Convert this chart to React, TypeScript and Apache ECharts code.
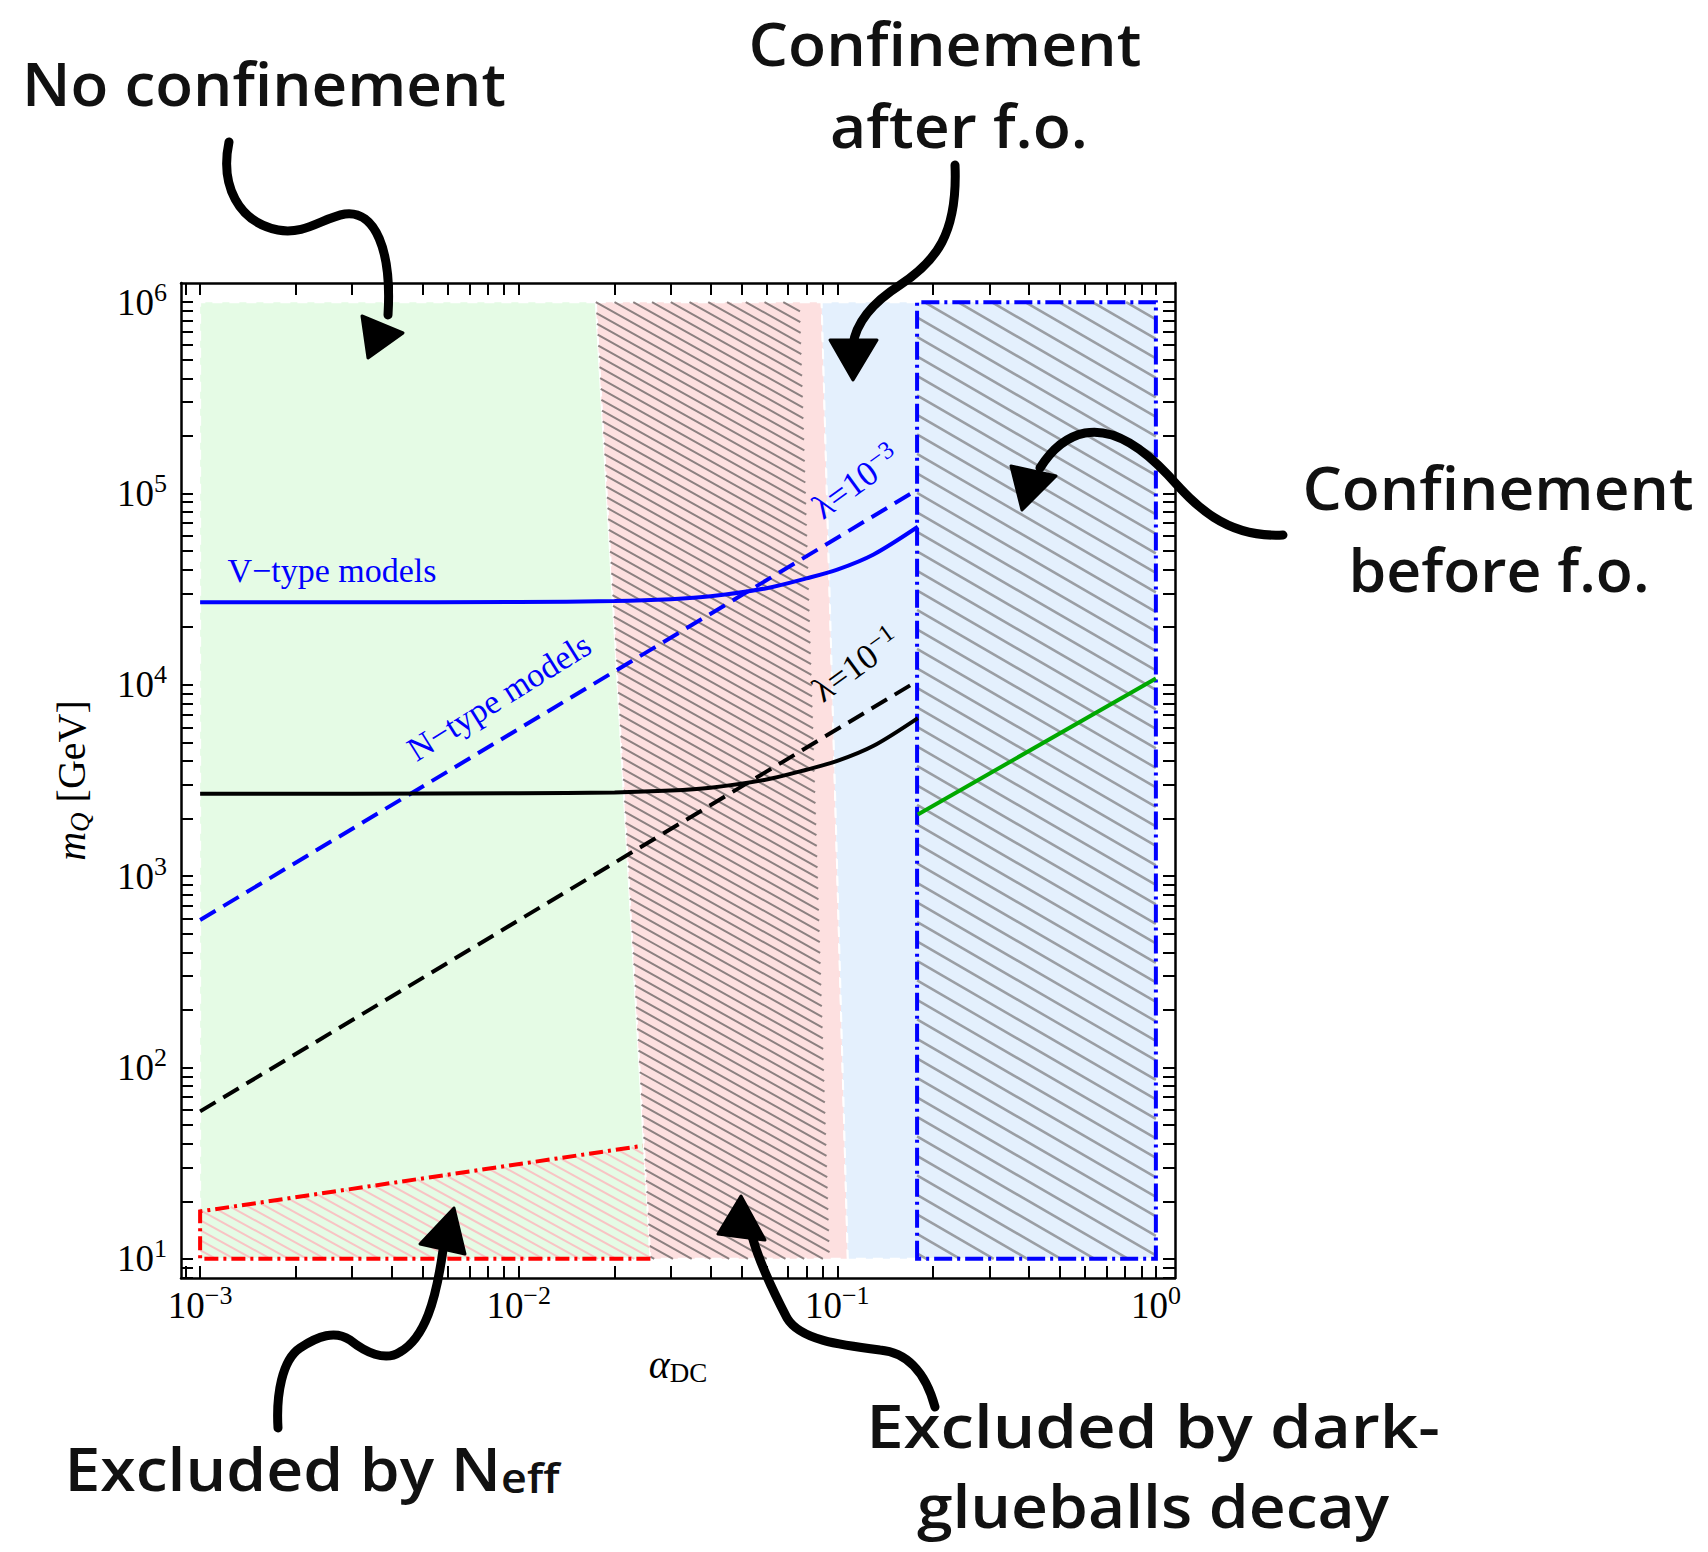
import React, { useEffect, useRef } from "react";
import * as echarts from "echarts";

const W = 1708;
const H = 1552;

// ---------- axis ranges (in decades) ----------
const X_RANGE = [-3.06, 0.06];
const Y_RANGE = [0.9, 6.1];

// ---------- tick labels ----------
const xTickExponents = [-3, -2, -1, 0];
const xTickLabels = ["−3", "−2", "−1", "0"];
const yTickExponents = [1, 2, 3, 4, 5, 6];
const yTickLabels = ["1", "2", "3", "4", "5", "6"];

// ---------- curves: alpha_DC and m_Q [GeV] ----------
const vTypeAlpha = [0.001, 0.003, 0.01, 0.02, 0.03, 0.04, 0.06, 0.08, 0.1, 0.13, 0.179];
const vTypeMassL3 = [2.7e4, 2.7e4, 2.71e4, 2.74e4, 2.8e4, 2.9e4, 3.2e4, 3.6e4, 4.0e4, 4.8e4, 6.7e4];
const vTypeMassL1 = [2.7e3, 2.7e3, 2.71e3, 2.74e3, 2.8e3, 2.9e3, 3.2e3, 3.6e3, 4.0e3, 4.8e3, 6.7e3];
const nTypeAlpha = [0.001, 0.179];
const nTypeMassL3 = [590, 1.05e5];
const nTypeMassL1 = [59, 1.05e4];
const greenAlpha = [0.179, 1.0];
const greenMass = [2.1e3, 1.08e4];

// ---------- regions (alpha_DC, m_Q) ----------
const noConfRegion = [[0.001, 10], [0.001, 1e6], [0.01746, 1e6], [0.0259, 10]];
const glueballRegion = [[0.01746, 1e6], [0.0893, 1e6], [0.1079, 10], [0.0259, 10]];
const glueballHatch = [[0.01746, 1e6], [0.0762, 1e6], [0.0947, 10], [0.0259, 10]];
const afterFoRegion = [[0.0893, 1e6], [1, 1e6], [1, 10], [0.1079, 10]];
const beforeFoRegion = [[0.178, 10], [0.178, 1e6], [1, 1e6], [1, 10]];
const neffRegion = [[0.001, 10], [0.001, 17.7], [0.0245, 39], [0.0259, 10]];
const neffBorder = [[0.0259, 10], [0.001, 10], [0.001, 17.7], [0.0245, 39]];

const SERIF = '"Liberation Serif", "Times New Roman", serif';
const HAND = '"Open Sans", sans-serif';

function logTicks(lo: number, hi: number) {
  const out: number[] = [];
  for (let n = Math.floor(lo) - 1; n <= Math.ceil(hi); n++) {
    for (let k = 1; k <= 9; k++) {
      const v = n + Math.log10(k);
      if (v >= lo - 1e-9 && v <= hi + 1e-9) out.push(v);
    }
  }
  return out;
}

const toLog = (p: number[]) => [Math.log10(p[0]), Math.log10(p[1])];

function hatchSegments(pts: number[][], slope: number, step: number) {
  const bs = pts.map((p) => p[1] - slope * p[0]);
  const bmin = Math.min(...bs);
  const bmax = Math.max(...bs);
  const segs: number[][] = [];
  for (let b = Math.ceil(bmin / step) * step; b <= bmax; b += step) {
    const xs: number[] = [];
    for (let i = 0; i < pts.length; i++) {
      const p1 = pts[i];
      const p2 = pts[(i + 1) % pts.length];
      const f1 = p1[1] - slope * p1[0] - b;
      const f2 = p2[1] - slope * p2[0] - b;
      if ((f1 <= 0 && f2 >= 0) || (f1 >= 0 && f2 <= 0)) {
        if (f1 === f2) continue;
        const t = f1 / (f1 - f2);
        xs.push(p1[0] + t * (p2[0] - p1[0]));
      }
    }
    if (xs.length >= 2) {
      const x1 = Math.min(...xs);
      const x2 = Math.max(...xs);
      if (x2 - x1 > 0.5) segs.push([x1, slope * x1 + b, x2, slope * x2 + b]);
    }
  }
  return segs;
}

type RegionOpts = {
  fill?: string;
  edge?: boolean;
  hatchPoly?: number[][];
  hatch?: { slope: number; step: number; color: string; width: number };
  border?: { points: number[][]; color: string; width: number; dash: number[]; closed: boolean };
  z: number;
};

function regionSeries(name: string, poly: number[][], o: RegionOpts) {
  return {
    type: "custom",
    name,
    coordinateSystem: "cartesian2d",
    xAxisIndex: 0,
    yAxisIndex: 0,
    silent: true,
    clip: false,
    z: o.z,
    data: [[0, 0]],
    renderItem: (_params: any, api: any) => {
      const pts = poly.map((p) => api.coord(toLog(p)));
      const children: any[] = [];
      if (o.fill) {
        children.push({
          type: "polygon",
          shape: { points: pts },
          style: o.edge
            ? { fill: o.fill, stroke: "#ffffff", lineWidth: 2, lineDash: [10, 7] }
            : { fill: o.fill },
        });
      }
      if (o.hatch) {
        const hp = (o.hatchPoly || poly).map((p) => api.coord(toLog(p)));
        const segs = hatchSegments(hp, o.hatch.slope, o.hatch.step);
        segs.forEach((s) =>
          children.push({
            type: "line",
            shape: { x1: s[0], y1: s[1], x2: s[2], y2: s[3] },
            style: { stroke: o.hatch!.color, lineWidth: o.hatch!.width },
          })
        );
      }
      if (o.border) {
        const bp = o.border.points.map((p) => api.coord(toLog(p)));
        children.push({
          type: o.border.closed ? "polygon" : "polyline",
          shape: { points: bp },
          style: {
            fill: "none",
            stroke: o.border.color,
            lineWidth: o.border.width,
            lineDash: o.border.dash,
          },
        });
      }
      return { type: "group", children };
    },
  };
}

function lineSeries(name: string, xs: number[], ys: number[], color: string, dashed: boolean, smooth: number) {
  return {
    type: "line",
    name,
    xAxisIndex: 0,
    yAxisIndex: 0,
    data: xs.map((a, i) => [Math.log10(a), Math.log10(ys[i])]),
    showSymbol: false,
    symbol: "none",
    smooth,
    silent: true,
    z: 5,
    lineStyle: { color, width: 4, type: dashed ? [18, 9] : "solid" },
  };
}

function textWidth(text: string, font: string) {
  const c = document.createElement("canvas").getContext("2d")!;
  c.font = font;
  return c.measureText(text).width;
}

const HAND_SIZE = 60;
const HAND_WEIGHT = 600;

function handText(text: string, cx: number, baseline: number, width: number) {
  const w = textWidth(text, `${HAND_WEIGHT} ${HAND_SIZE}px "Open Sans"`);
  return {
    type: "text",
    x: cx,
    y: baseline - 0.33 * HAND_SIZE,
    scaleX: width / w,
    z: 20,
    style: {
      text,
      fontFamily: HAND,
      fontSize: HAND_SIZE,
      fontWeight: HAND_WEIGHT,
      fill: "#111111",
      align: "center",
      verticalAlign: "middle",
      textAlign: "center",
      textVerticalAlign: "middle",
    },
  };
}

// ---------- hand-drawn arrows ----------
const arrowPaths: Record<string, string> = {
  arrowNoConf: "M229,142 C220,185 238,222 278,230 C305,235 322,218 345,214 C375,210 392,250 388,315",
  arrowAfterFo: "M955,165 C958,235 935,262 900,285 C872,303 856,322 853,345",
  arrowBeforeFo: "M1283,535 C1225,538 1195,505 1168,475 C1140,445 1112,428 1085,433 C1065,437 1050,452 1040,468",
  arrowNeff: "M278,1428 C276,1395 282,1360 300,1348 C318,1336 335,1330 350,1340 C365,1352 385,1362 400,1352 C425,1338 436,1300 443,1250",
  arrowGlue: "M935,1407 C925,1370 905,1352 880,1350 C840,1345 800,1340 787,1318 C775,1295 760,1265 752,1236",
};
const arrowHeads: number[][][] = [
  [[362, 316], [403, 333], [368, 358]],
  [[830, 340], [877, 340], [853, 380]],
  [[1011, 466], [1056, 476], [1022, 510]],
  [[454, 1208], [420, 1244], [465, 1254]],
  [[741, 1196], [718, 1234], [765, 1240]],
];

let shapesRegistered = false;
function registerShapes() {
  if (shapesRegistered) return;
  Object.keys(arrowPaths).forEach((k) => {
    echarts.graphic.registerShape(k, (echarts.graphic as any).extendPath(arrowPaths[k], {}));
  });
  shapesRegistered = true;
}

function buildOption() {
  const xTicks = logTicks(X_RANGE[0], X_RANGE[1]);
  const yTicks = logTicks(Y_RANGE[0], Y_RANGE[1]);

  const tickLabelRich = {
    b: { fontFamily: SERIF, fontSize: 37, color: "#000", lineHeight: 46 },
    s: { fontFamily: SERIF, fontSize: 26, color: "#000", verticalAlign: "top", lineHeight: 30 },
  };

  const frameAxis = (extra: any) => ({
    type: "value",
    axisLine: { show: true, onZero: false, lineStyle: { color: "#000", width: 2.5 } },
    splitLine: { show: false },
    nameMoveOverlap: false,
    ...extra,
  });

  const xAxes = [
    frameAxis({
      position: "bottom",
      min: X_RANGE[0],
      max: X_RANGE[1],
      axisTick: { show: true, inside: true, length: 12, lineStyle: { color: "#000", width: 2 }, customValues: xTicks },
      axisLabel: {
        show: true,
        margin: 4,
        customValues: xTickExponents,
        formatter: (v: number) => {
          const i = xTickExponents.findIndex((e) => Math.abs(e - v) < 1e-6);
          return i < 0 ? "" : `{b|10}{s|${xTickLabels[i]}}`;
        },
        rich: tickLabelRich,
      },
      name: "{a|α}{d|DC}",
      nameLocation: "middle",
      nameGap: 64,
      nameTextStyle: {
        rich: {
          a: { fontFamily: SERIF, fontStyle: "italic", fontSize: 40, color: "#000", lineHeight: 44 },
          d: { fontFamily: SERIF, fontSize: 27, color: "#000", verticalAlign: "bottom", lineHeight: 30 },
        },
      },
    }),
    frameAxis({
      position: "top",
      min: X_RANGE[0],
      max: X_RANGE[1],
      axisTick: { show: true, inside: true, length: 12, lineStyle: { color: "#000", width: 2 }, customValues: xTicks },
      axisLabel: { show: false },
    }),
  ];

  const yAxes = [
    frameAxis({
      position: "left",
      min: Y_RANGE[0],
      max: Y_RANGE[1],
      axisTick: { show: true, inside: true, length: 12, lineStyle: { color: "#000", width: 2 }, customValues: yTicks },
      axisLabel: {
        show: true,
        margin: 14,
        customValues: yTickExponents,
        formatter: (v: number) => {
          const i = yTickExponents.findIndex((e) => Math.abs(e - v) < 1e-6);
          return i < 0 ? "" : `{b|10}{s|${yTickLabels[i]}}`;
        },
        rich: tickLabelRich,
      },
      name: "{i|m}{q|Q}{r| [GeV]}",
      nameLocation: "middle",
      nameRotate: 90,
      nameGap: 88,
      nameTextStyle: {
        rich: {
          i: { fontFamily: SERIF, fontStyle: "italic", fontSize: 40, color: "#000", lineHeight: 44 },
          q: { fontFamily: SERIF, fontStyle: "italic", fontSize: 27, color: "#000", verticalAlign: "bottom", lineHeight: 30 },
          r: { fontFamily: SERIF, fontSize: 40, color: "#000", lineHeight: 44 },
        },
      },
    }),
    frameAxis({
      position: "right",
      min: Y_RANGE[0],
      max: Y_RANGE[1],
      axisTick: { show: true, inside: true, length: 12, lineStyle: { color: "#000", width: 2 }, customValues: yTicks },
      axisLabel: { show: false },
    }),
  ];

  const series: any[] = [
    regionSeries("No confinement", noConfRegion, { fill: "#e5fbe5", edge: true, z: 1 }),
    regionSeries("Dark glueball decay", glueballRegion, {
      fill: "#fde0e0",
      edge: true,
      hatchPoly: glueballHatch,
      hatch: { slope: 0.56, step: 10.5, color: "#8c8080", width: 2 },
      z: 1,
    }),
    regionSeries("Confinement after f.o.", afterFoRegion, { fill: "#e4f0fd", edge: true, z: 1 }),
    regionSeries("Confinement before f.o.", beforeFoRegion, {
      hatch: { slope: 0.58, step: 19.5, color: "#9a9ea4", width: 2.5 },
      border: { points: beforeFoRegion, color: "#0000ff", width: 4, dash: [18, 5, 3, 5], closed: true },
      z: 2,
    }),
    regionSeries("Excluded by Neff", neffRegion, {
      hatch: { slope: 0.55, step: 10, color: "#f8c4c4", width: 2 },
      border: { points: neffBorder, color: "#ff0000", width: 4, dash: [14, 5, 3, 5], closed: false },
      z: 2,
    }),
    lineSeries("V-type λ=1e-3", vTypeAlpha, vTypeMassL3, "#0000ff", false, 0.3),
    lineSeries("N-type λ=1e-3", nTypeAlpha, nTypeMassL3, "#0000ff", true, 0),
    lineSeries("V-type λ=1e-1", vTypeAlpha, vTypeMassL1, "#000000", false, 0.3),
    lineSeries("N-type λ=1e-1", nTypeAlpha, nTypeMassL1, "#000000", true, 0),
    lineSeries("Green", greenAlpha, greenMass, "#00a800", false, 0),
  ];

  const deg = Math.PI / 180;
  const plotText = (text: string, x: number, y: number, color: string, rot: number, rich?: any) => ({
    type: "text",
    x,
    y,
    rotation: rot * deg,
    z: 15,
    style: {
      text,
      fontFamily: SERIF,
      fontSize: 34,
      fill: color,
      align: "center",
      verticalAlign: "middle",
      textAlign: "center",
      textVerticalAlign: "middle",
      rich,
    },
  });
  const lamRich = (color: string) => ({
    a: { fontFamily: SERIF, fontSize: 35, fill: color, color, lineHeight: 42 },
    s: { fontFamily: SERIF, fontSize: 25, fill: color, color, verticalAlign: "top", lineHeight: 28 },
  });

  const neffW = textWidth("Excluded by N", `${HAND_WEIGHT} ${HAND_SIZE}px "Open Sans"`) +
    textWidth("eff", `${HAND_WEIGHT} 42px "Open Sans"`);

  const graphic: any[] = [
    plotText("V−type models", 332, 570, "#0000ff", 0),
    plotText("N−type models", 499, 697, "#0000ff", 32),
    plotText("{a|λ=10}{s|−3}", 856, 482, "#0000ff", 36, lamRich("#0000ff")),
    plotText("{a|λ=10}{s|−1}", 856, 665, "#000000", 36, lamRich("#000000")),
    handText("No confinement", 264, 103, 484),
    handText("Confinement", 945, 63, 393),
    handText("after f.o.", 959, 145, 258),
    handText("Confinement", 1498, 507, 391),
    handText("before f.o.", 1499, 588, 301),
    {
      type: "text",
      x: 312,
      y: 1485 - 0.33 * HAND_SIZE,
      scaleX: 495 / neffW,
      z: 20,
      style: {
        text: "{a|Excluded by N}{b|eff}",
        align: "center",
        verticalAlign: "middle",
        textAlign: "center",
        textVerticalAlign: "middle",
        rich: {
          a: { fontFamily: HAND, fontSize: HAND_SIZE, fontWeight: HAND_WEIGHT, fill: "#111111", lineHeight: 66, verticalAlign: "bottom" },
          b: { fontFamily: HAND, fontSize: 42, fontWeight: HAND_WEIGHT, fill: "#111111", lineHeight: 48, verticalAlign: "bottom" },
        },
      },
    },
    handText("Excluded by dark-", 1153, 1445, 574),
    handText("glueballs decay", 1153, 1525, 472),
  ];

  Object.keys(arrowPaths).forEach((k) => {
    graphic.push({
      type: k,
      x: 0,
      y: 0,
      z: 30,
      style: { fill: "none", stroke: "#000000", lineWidth: 9, lineCap: "round", lineJoin: "round" },
    });
  });
  arrowHeads.forEach((pts) => {
    graphic.push({
      type: "polygon",
      z: 31,
      shape: { points: pts },
      style: { fill: "#000000", stroke: "#000000", lineWidth: 3, lineJoin: "round" },
    });
  });

  return {
    animation: false,
    backgroundColor: "#ffffff",
    grid: { left: 181, right: W - 1175, top: 283, bottom: H - 1278, containLabel: false, outerBoundsMode: "none" },
    xAxis: xAxes,
    yAxis: yAxes,
    series,
    graphic,
  };
}

export default function App() {
  const ref = useRef<HTMLDivElement>(null);
  useEffect(() => {
    registerShapes();
    const chart = echarts.init(ref.current!, null, { renderer: "svg" });
    chart.setOption(buildOption() as any);
    return () => chart.dispose();
  }, []);
  return (
    <div
      ref={ref}
      style={{ position: "absolute", left: 0, top: 0, width: W, height: H, background: "#ffffff" }}
    />
  );
}
